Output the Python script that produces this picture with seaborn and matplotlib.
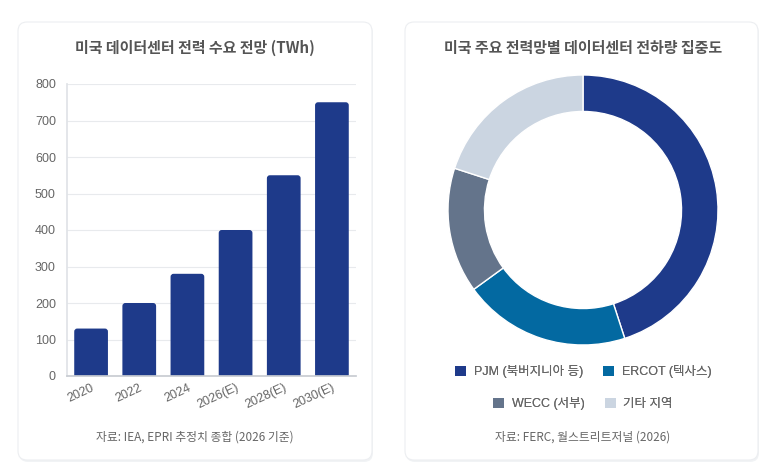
import matplotlib
matplotlib.use('Agg')
import matplotlib.pyplot as plt
from matplotlib.patches import FancyBboxPatch, Patch
import seaborn as sns
import pandas as pd

years = ['2020', '2022', '2024', '2026(E)', '2028(E)', '2030(E)']
demand_twh = [130, 200, 280, 400, 550, 750]

grids = ['PJM (북버지니아 등)', 'ERCOT (텍사스)', 'WECC (서부)', '기타 지역']
grid_share = [45, 20, 15, 20]
grid_colors = ['#1e3a8a', '#0369a1', '#64748b', '#cbd5e1']

BAR_COLOR = '#1e3a8a'
TEXT = '#666666'
TITLE = '#555555'
W, H = 773, 468


def fig_box(x0, y0, x1, y1):
    # pixel box (top-left origin) -> figure fraction
    return [x0 / W, (H - y1) / H, (x1 - x0) / W, (y1 - y0) / H]


sns.set_theme(style='white')
plt.rcParams['font.family'] = ['Noto Sans CJK KR', 'DejaVu Sans']
LATIN = ['Liberation Sans', 'Noto Sans CJK KR']

fig = plt.figure(figsize=(W / 100, H / 100), dpi=100)
fig.patch.set_facecolor('white')

# cards
bg = fig.add_axes([0, 0, 1, 1], zorder=-10)
bg.set_xlim(0, W)
bg.set_ylim(H, 0)
bg.axis('off')
for x0, x1 in [(18, 372), (405, 758)]:
    bg.add_patch(FancyBboxPatch((x0 + 1, 24), x1 - x0, 438,
                                boxstyle='round,pad=0,rounding_size=9',
                                facecolor='#f1f3f5', edgecolor='none'))
    bg.add_patch(FancyBboxPatch((x0, 22), x1 - x0, 438,
                                boxstyle='round,pad=0,rounding_size=9',
                                facecolor='white', edgecolor='#eceef1', linewidth=0.8))

# bar chart
ax = fig.add_axes(fig_box(67, 84, 356, 376))
df = pd.DataFrame({'year': years, 'twh': demand_twh})
sns.barplot(data=df, x='year', y='twh', color=BAR_COLOR, saturation=1,
            width=0.7, ax=ax)
ax.set_ylim(0, 800)
ax.set_xlim(-0.5, len(years) - 0.5)

# round the top corners of the bars (bottom corners fall below the axis and are clipped)
x_per_px = len(years) / 289
y_per_px = 800 / 292
for bar in list(ax.patches):
    x, w, h = bar.get_x(), bar.get_width(), bar.get_height()
    rounded = FancyBboxPatch((x, -20), w, h + 20,
                             boxstyle='round,pad=0,rounding_size=%f' % (3 * x_per_px),
                             mutation_aspect=y_per_px / x_per_px,
                             facecolor=BAR_COLOR, edgecolor='none', zorder=bar.get_zorder())
    bar.remove()
    ax.add_patch(rounded)

ax.set_yticks(range(0, 801, 100))
ax.set_xlabel('')
ax.set_ylabel('')
ax.grid(axis='y', color='#e8eaed', linewidth=0.8)
ax.set_axisbelow(True)
for s in ['top', 'right']:
    ax.spines[s].set_visible(False)
ax.spines['left'].set_color('#e0e3e7')
ax.spines['bottom'].set_color('#c8ccd2')
ax.tick_params(axis='y', length=5, color='#e0e3e7', labelsize=9, labelcolor=TEXT, pad=3)
ax.tick_params(axis='x', length=0, labelsize=9, labelcolor=TEXT, pad=4)
plt.setp(ax.get_xticklabels(), rotation=25, ha='right', rotation_mode='anchor', family=LATIN)
plt.setp(ax.get_yticklabels(), family=LATIN)

fig.text(195 / W, 1 - 48 / H, '미국 데이터센터 전력 수요 전망 (TWh)', ha='center', va='center',
         fontsize=10.8, fontweight='bold', color=TITLE)
fig.text(195 / W, 1 - 437 / H, '자료: IEA, EPRI 추정치 종합 (2026 기준)', ha='center', va='center',
         fontsize=8.5, color=TEXT)

# donut chart
ax2 = fig.add_axes(fig_box(448, 75, 718, 345))
ax2.pie(grid_share, colors=grid_colors, startangle=90, counterclock=False,
        radius=1, wedgeprops=dict(width=0.27, edgecolor='white', linewidth=1))
ax2.set_xlim(-1, 1)
ax2.set_ylim(-1, 1)
ax2.set_aspect('equal')
ax2.axis('off')

fig.text(583 / W, 1 - 48 / H, '미국 주요 전력망별 데이터센터 전하량 집중도', ha='center', va='center',
         fontsize=10.8, fontweight='bold', color=TITLE)

handles = [Patch(facecolor=c, edgecolor='none') for c in grid_colors]
for row, ypix in [(0, 372), (1, 404)]:
    i = row * 2
    leg = fig.legend(handles[i:i + 2], grids[i:i + 2], ncol=2, loc='center',
                     bbox_to_anchor=(583 / W, 1 - ypix / H), frameon=False,
                     prop={'family': LATIN, 'size': 9}, labelcolor=TEXT,
                     handlelength=0.9, handleheight=0.9,
                     handletextpad=0.6, columnspacing=1.6, borderaxespad=0)
    fig.add_artist(leg)

fig.text(583 / W, 1 - 437 / H, '자료: FERC, 월스트리트저널 (2026)', ha='center', va='center',
         fontsize=8.5, color=TEXT)

fig.savefig('out.png', dpi=100, facecolor='white')
